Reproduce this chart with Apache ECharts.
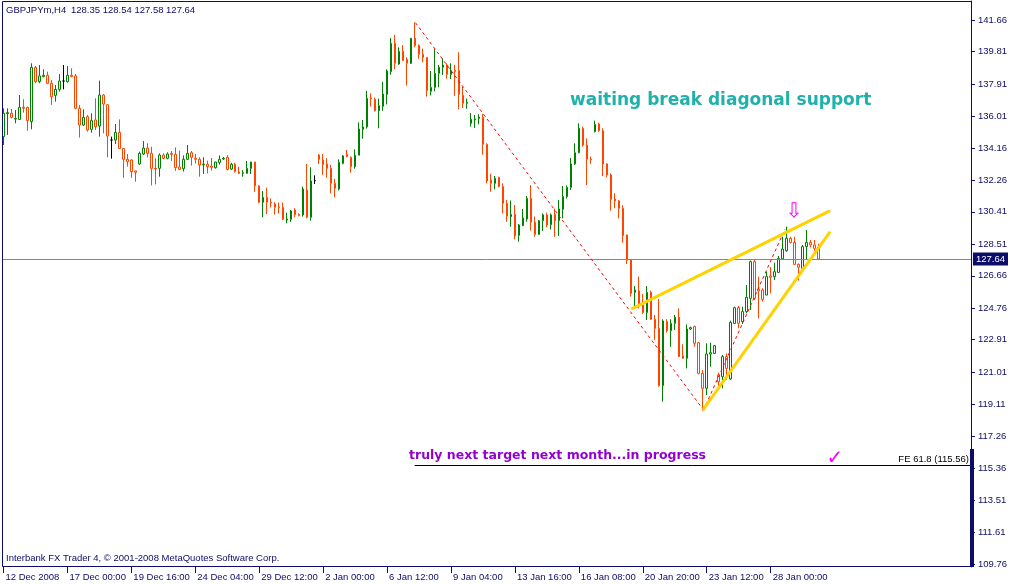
<!DOCTYPE html>
<html><head><meta charset="utf-8">
<script src="https://cdn.jsdelivr.net/npm/echarts@6/dist/echarts.min.js"></script>
<style>html,body{margin:0;padding:0;background:#fff}#c{width:1010px;height:584px}</style>
</head><body><div id="c"></div>
<script>
// ---- data ----
const symbolName = 'GBPJPYm,H4';
const opens = [134.82,136.17,136.19,135.85,135.83,136.54,136.54,135.70,138.88,138.04,138.34,138.42,137.95,137.24,137.59,138.08,138.04,138.42,138.38,136.48,
135.50,135.99,135.25,135.80,135.44,137.26,136.69,134.62,134.62,135.07,134.13,133.49,133.45,132.81,133.22,133.80,134.15,133.84,132.96,132.96,
133.74,133.55,133.84,133.78,133.04,132.94,133.49,133.88,133.55,133.49,133.16,133.20,133.10,133.00,133.31,133.51,133.61,132.92,133.20,132.75,
132.67,132.67,132.96,133.33,131.93,130.97,131.26,130.97,130.87,130.71,130.67,129.93,129.97,130.52,130.26,130.23,131.69,130.09,132.24,133.74,
133.45,133.22,132.96,132.08,131.75,133.25,133.78,133.61,133.06,133.73,135.25,135.39,137.09,137.01,136.34,136.60,137.30,138.63,140.29,139.08,
139.82,139.35,139.12,140.59,140.17,139.65,139.47,137.48,137.71,138.53,138.89,139.02,138.47,138.71,138.71,137.24,136.77,135.60,135.80,135.89,
135.95,134.37,132.28,132.08,132.43,131.89,130.91,130.13,130.26,129.03,129.60,129.99,131.20,129.80,129.09,129.89,130.23,129.66,130.26,129.89,
130.56,131.30,131.85,133.22,133.88,135.31,134.33,133.51,135.11,135.56,135.17,133.22,132.57,131.16,131.05,130.62,129.05,127.59,125.69,125.77,
124.95,124.50,125.69,124.11,123.58,120.22,123.97,123.44,123.87,124.23,121.96,121.82,123.54,123.68,122.74,120.94,120.06,122.07,122.11,120.84,
120.74,121.92,120.61,123.87,124.79,123.97,124.56,125.34,127.49,125.87,125.83,125.53,126.65,126.61,126.86,127.65,128.13,128.86,128.62,127.33,
127.10,128.37,128.62,128.47,128.35];
const closes = [136.19,136.23,135.95,135.89,136.54,136.48,135.76,138.88,138.04,138.38,138.42,137.95,137.16,137.59,138.08,138.08,138.42,138.34,136.48,135.50,
135.95,135.21,135.76,135.40,137.26,136.73,134.86,134.62,135.07,134.13,133.49,133.35,132.77,132.73,133.84,134.15,133.84,132.96,132.92,133.74,
133.55,133.80,133.78,133.00,132.90,133.49,133.84,133.61,133.49,133.16,133.20,133.06,133.02,133.33,133.49,133.55,132.90,133.20,132.77,132.67,
132.71,132.96,133.33,131.93,130.97,131.26,130.97,130.93,130.67,130.67,129.97,129.99,130.46,130.24,130.19,131.75,130.09,132.22,132.24,133.49,
133.18,132.96,132.08,131.79,133.31,133.69,133.65,133.06,133.73,135.27,135.39,137.07,137.05,136.34,136.64,137.32,138.67,140.29,139.12,139.82,
139.28,139.12,140.59,140.16,139.65,139.47,137.52,137.71,138.53,138.89,139.02,138.47,138.69,138.63,137.30,136.77,136.83,135.84,135.86,135.97,
134.37,132.22,132.08,132.38,131.89,130.91,130.17,130.26,129.00,129.64,130.05,131.20,129.80,129.09,129.89,130.23,129.64,130.23,129.89,130.58,
131.30,131.85,133.22,133.88,135.31,134.33,133.49,133.47,135.54,135.17,133.22,132.57,131.14,131.05,130.62,129.02,127.57,125.63,125.83,124.89,
124.50,125.69,124.11,123.58,120.22,124.01,123.44,123.87,124.23,121.92,121.82,123.54,123.62,122.70,120.94,120.06,122.07,122.15,122.56,120.45,
121.92,121.23,123.93,124.79,123.87,124.56,125.40,127.49,125.34,125.77,125.28,126.61,126.57,126.90,127.68,128.23,128.86,128.62,127.33,127.16,
128.37,128.62,128.47,128.27,127.64];
const lows = [134.33,134.92,135.89,135.60,135.83,136.23,135.17,135.25,137.95,137.95,138.30,137.91,136.68,136.87,137.46,137.59,137.99,138.30,136.42,134.76,
135.44,135.11,135.05,135.21,134.82,135.01,133.61,133.53,134.39,134.13,132.41,133.06,132.41,132.18,133.16,133.74,133.61,131.96,132.02,132.47,
133.49,133.49,133.39,132.81,132.88,132.77,133.45,133.12,133.24,132.47,132.63,132.67,132.83,132.94,133.18,133.45,132.84,132.86,132.71,132.63,
132.47,132.65,132.63,131.59,130.91,130.09,130.28,130.67,130.26,130.32,129.93,129.74,129.81,130.09,130.15,130.13,130.03,129.89,132.04,133.22,
132.58,132.41,131.50,131.26,131.67,133.20,133.61,132.71,132.94,133.73,134.70,135.29,136.58,136.29,135.31,136.34,136.71,138.45,138.77,139.04,
139.26,137.81,139.08,140.06,139.39,139.18,137.17,137.24,137.48,137.71,138.44,138.22,138.20,137.22,136.42,136.50,136.46,135.41,135.33,135.54,
133.76,132.08,131.59,131.73,131.85,130.32,129.83,129.54,128.80,128.66,129.58,129.83,129.31,128.95,129.05,129.29,129.50,129.38,128.95,129.00,
130.03,131.20,131.69,133.16,133.84,134.23,131.98,133.22,135.07,135.11,132.51,132.43,130.48,130.62,130.03,128.60,127.35,125.44,124.85,124.75,
124.42,124.07,124.07,122.90,120.16,119.28,123.33,122.50,123.48,121.90,121.80,121.23,123.48,122.50,120.88,118.75,119.67,121.33,122.07,120.16,
120.06,120.55,120.55,123.83,123.58,123.83,124.46,124.65,125.24,124.17,125.14,125.53,125.63,126.41,126.84,127.59,128.07,128.56,127.29,126.38,
127.04,127.59,128.33,128.13,127.58];
const highs = [136.48,136.48,136.44,136.38,137.26,137.01,136.58,139.12,138.96,139.02,138.77,138.63,138.14,137.85,138.49,139.02,138.96,138.83,138.49,136.68,
136.42,136.09,136.19,137.07,138.10,137.32,136.73,134.82,135.56,135.83,134.13,133.80,133.49,132.81,133.94,134.56,134.43,134.23,133.55,133.84,
133.84,133.90,133.98,134.19,134.00,133.72,134.33,133.98,133.80,133.61,133.61,133.41,133.57,133.35,133.72,133.63,133.74,133.29,133.29,133.06,
132.86,133.39,133.35,133.35,131.96,131.63,131.83,131.20,130.97,130.95,130.95,130.36,130.52,130.62,130.32,131.89,133.22,133.02,132.55,133.80,
133.80,133.55,133.16,132.34,133.49,133.73,134.04,133.65,134.07,135.66,135.80,137.50,137.36,137.11,137.05,138.03,138.77,140.60,140.78,140.06,
140.19,139.47,140.60,141.52,140.23,139.98,139.47,138.67,139.98,139.02,139.41,139.12,139.12,139.04,139.77,137.75,137.05,136.21,136.09,136.13,
136.15,134.43,132.63,132.51,132.47,132.08,131.11,131.07,130.81,129.70,130.58,131.34,131.98,130.13,129.93,130.32,130.36,130.32,130.60,131.11,
131.93,131.96,133.57,134.43,135.60,135.41,134.72,133.65,135.76,135.64,135.31,133.26,132.67,131.50,131.11,130.80,129.08,127.63,126.06,126.61,
125.59,126.06,125.79,124.36,125.30,124.11,124.11,124.11,124.36,124.75,122.64,123.81,123.68,123.74,122.76,121.14,122.70,122.74,122.61,120.98,
122.02,122.11,124.03,124.85,124.89,124.85,126.12,127.55,127.59,126.61,125.93,126.90,127.16,127.43,127.82,128.95,129.54,128.95,128.95,127.39,
128.47,129.35,128.76,128.76,128.54];
const xLabels = ['12 Dec 2008','17 Dec 00:00','19 Dec 16:00','24 Dec 04:00','29 Dec 12:00','2 Jan 00:00','6 Jan 12:00','9 Jan 04:00','13 Jan 16:00','16 Jan 08:00','20 Jan 20:00','23 Jan 12:00','28 Jan 00:00'];
const barsPerLabel = 16;
const yTicks = [141.66,139.81,137.91,136.01,134.16,132.26,130.41,128.51,126.66,124.76,122.91,121.01,119.11,117.26,115.36,113.51,111.61,109.76];
const zigzag = [[103.1,141.50],[175.2,118.79],[195.6,129.40]];
const upperTrend = [[157.1,124.71],[206.9,130.48]];
const lowerTrend = [[175.0,118.79],[206.9,129.25]];
const feLevel = 115.56;
const feStartBar = 102.9;
const feText = 'FE 61.8 (115.56)';

// ---- chart ----
const xMin = -0.375, xMax = 242.125;
const yMin = 109.584, yMax = 142.774;
const navy = '#0c0c6a';
const smallFont = 'Liberation Sans';
const last = closes.length - 1;
const candles = opens.map((o, i) => [i, o, closes[i], lows[i], highs[i]]);
const xTickVals = xLabels.map((_, k) => k * barsPerLabel);

const chart = echarts.init(document.getElementById('c'), null, {renderer: 'canvas'});
const markData = [
  {yAxis: closes[last], lineStyle: {color: '#7a8a9a', width: 1, type: 'solid'},
   label: {show: true, position: 'end', distance: 2, formatter: () => closes[last].toFixed(2),
           color: '#ffffff', backgroundColor: navy, padding: [2, 3, 1, 3], fontSize: 9.5, fontFamily: smallFont}},
  [{coord: zigzag[0], lineStyle: {color: '#ff0000', width: 1, type: [3, 3]}}, {coord: zigzag[1]}],
  [{coord: zigzag[1], lineStyle: {color: '#ff0000', width: 1, type: [3, 3]}}, {coord: zigzag[2]}],
  [{coord: upperTrend[0], lineStyle: {color: '#ffd200', width: 3, type: 'solid'}}, {coord: upperTrend[1]}],
  [{coord: lowerTrend[0], lineStyle: {color: '#ffd200', width: 3, type: 'solid'}}, {coord: lowerTrend[1]}],
  [{coord: [feStartBar, feLevel], lineStyle: {color: '#000000', width: 1, type: 'solid'},
    label: {show: true, position: 'insideEndTop', distance: [2, 1], formatter: feText, color: '#000000', fontSize: 9.5, fontFamily: smallFont}},
   {coord: [xMax, feLevel]}]
];

chart.setOption({
  animation: false,
  backgroundColor: '#ffffff',
  grid: {left: 2, top: 1, width: 970, height: 566, show: false},
  xAxis: {
    type: 'value', min: xMin, max: xMax,
    axisLine: {show: false, onZero: false}, splitLine: {show: false},
    axisTick: {show: true, customValues: xTickVals, length: 6, lineStyle: {color: navy}},
    axisLabel: {show: true, customValues: xTickVals, align: 'left', margin: 5, padding: [0, 0, 0, 2],
      formatter: v => xLabels[Math.round(v / barsPerLabel)] || '', color: navy, fontSize: 9.5, fontFamily: smallFont}
  },
  yAxis: {
    type: 'value', position: 'right', min: yMin, max: yMax,
    axisLine: {show: true, onZero: false, lineStyle: {color: navy, width: 1}}, splitLine: {show: false},
    axisTick: {show: true, customValues: yTicks, length: 4, lineStyle: {color: navy, width: 1}},
    axisLabel: {show: true, customValues: yTicks, margin: 7, formatter: v => v.toFixed(2), color: navy, fontSize: 9.5, fontFamily: smallFont}
  },
  series: [{
    type: 'candlestick',
    data: candles,
    barWidth: 2,
    itemStyle: {color: '#ffffff', color0: '#ffffff', borderColor: '#008000', borderColor0: '#ff4500', borderColorDoji: '#000000', borderWidth: 1},
    markLine: {silent: true, symbol: ['none', 'none'], animation: false, data: markData}
  }],
  graphic: [
    {type: 'rect', silent: true, z: 10, shape: {x: 2.5, y: 1.5, width: 969, height: 565}, style: {fill: 'none', stroke: navy, lineWidth: 1}},
    {type: 'rect', z: 10, shape: {x: 970, y: 449, width: 4, height: 118}, style: {fill: navy}},
    {type: 'text', left: 6, top: 5, style: {text: symbolName, fill: navy, font: '9.5px "Liberation Sans"'}},
    {type: 'text', left: 71, top: 5, style: {text: [opens[last], highs[last], lows[last], closes[last]].map(v => v.toFixed(2)).join(' '), fill: navy, font: '9.5px "Liberation Sans"'}},
    {type: 'text', left: 6, top: 553, style: {text: 'Interbank FX Trader 4, © 2001-2008 MetaQuotes Software Corp.', fill: navy, font: '9.5px "Liberation Sans"'}},
    {type: 'text', x: 570, y: 101, style: {text: 'waiting break diagonal support', fill: '#20b2aa', font: 'bold 17px "DejaVu Sans"', verticalAlign: 'middle'}},
    {type: 'text', x: 409, y: 456, style: {text: 'truly next target next month...in progress', fill: '#9400d3', font: 'bold 12.5px "DejaVu Sans"', verticalAlign: 'middle'}},
    {type: 'text', x: 794, y: 212, style: {text: '⇩', fill: '#ff00ff', font: '20px "DejaVu Sans"', align: 'center', verticalAlign: 'middle'}},
    {type: 'text', x: 835, y: 459, style: {text: '✓', fill: '#ff00ff', font: 'bold 20px "DejaVu Sans"', align: 'center', verticalAlign: 'middle'}}
  ]
});
</script></body></html>
